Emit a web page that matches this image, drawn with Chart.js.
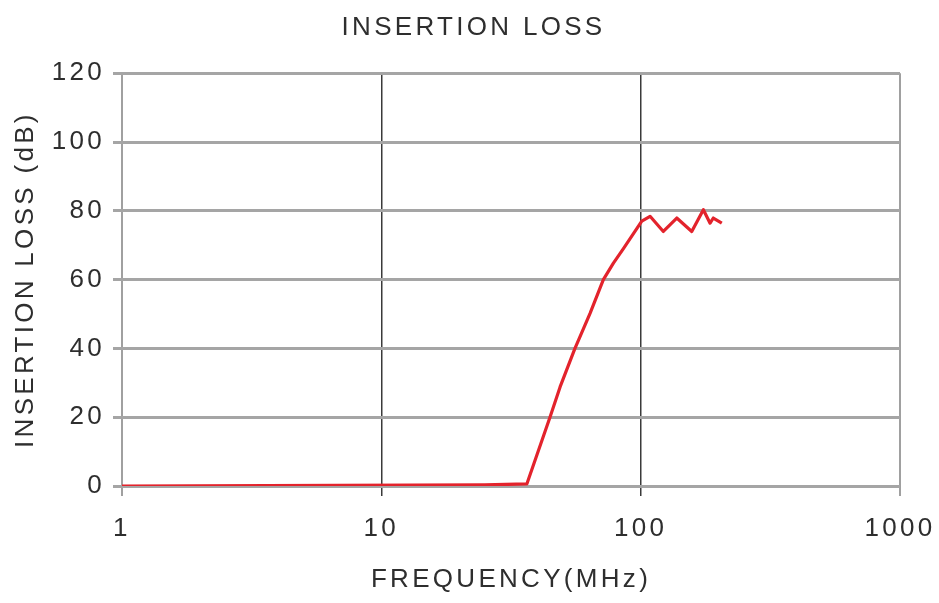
<!DOCTYPE html>
<html>
<head>
<meta charset="utf-8">
<script src="https://cdn.jsdelivr.net/npm/chart.js@4.4.1/dist/chart.umd.min.js"></script>
<style>
  html, body { margin: 0; padding: 0; background: #fff; }
  #wrap { width: 939px; height: 603px; }
</style>
</head>
<body>
<div id="wrap"><canvas id="myChart"></canvas></div>
<script>
// insertion loss vs frequency
const freqs = [1, 25, 36.4, 44.7, 48.9, 55.8, 63.8, 71.8, 78.5, 85.8, 101, 108.7, 122.3, 137.8, 157.4, 174.5, 185.2, 190.6, 205.5]
const loss  = [0, 0.3, 0.6, 20, 28.8, 40, 50.2, 60, 64.8, 69, 77, 78.4, 74, 77.9, 74, 80.3, 76.4, 77.9, 76.4]
const xTicks = [1, 10, 100, 1000]
const yTicks = [0, 20, 40, 60, 80, 100, 120]

let points = []
freqs.forEach((f, i) => points.push({x: f, y: loss[i]}))

const FONT = 'Liberation Sans'
const TEXT = '#2e2e2e'

// the scanned figure has very wide lettering
const spacing = {
  id: 'spacing',
  beforeUpdate: (chart) => { chart.ctx.letterSpacing = '3.3px' },
  beforeDraw: (chart) => { chart.ctx.letterSpacing = '3.3px' }
}

var ctx = document.getElementById('myChart').getContext('2d')

var myChart = new Chart(ctx, {
  type: 'line',
  data: {
    datasets: [{
      data: points,
      borderColor: '#e3232c',
      borderWidth: 3.2,
      borderJoinStyle: 'round',
      pointRadius: 0,
      tension: 0,
      fill: false
    }]
  },
  plugins: [spacing],
  options: {
    responsive: true,
    maintainAspectRatio: false,
    animation: false,
    layout: { padding: { left: 8, right: 0, top: 0, bottom: 0 } },
    plugins: {
      legend: { display: false },
      tooltip: { enabled: false },
      title: {
        display: true,
        text: 'INSERTION LOSS',
        color: TEXT,
        font: { family: FONT, size: 26, weight: 'normal' },
        padding: { top: 12, bottom: 30 }
      }
    },
    scales: {
      x: {
        type: 'logarithmic',
        min: 1,
        max: 1000,
        afterBuildTicks: (scale) => { scale.ticks = xTicks.map(v => ({value: v})) },
        afterFit: (scale) => {
          scale.height = 117
          scale.paddingLeft = 0
          scale.paddingRight = 30
        },
        border: { display: false },
        grid: {
          color: (c) => (c.index == 0 || c.index == 3) ? '#a0a0a0' : '#3a3a3a',
          lineWidth: (c) => (c.index == 0 || c.index == 3) ? 2 : 1.5,
          tickLength: 10
        },
        ticks: {
          color: TEXT,
          font: { family: FONT, size: 26 },
          padding: 17,
          maxRotation: 0,
          callback: (v) => String(v)
        },
        title: {
          display: true,
          text: 'FREQUENCY(MHz)',
          color: TEXT,
          font: { family: FONT, size: 26 },
          padding: { top: 0, bottom: 8 }
        }
      },
      y: {
        min: 0,
        max: 120,
        afterBuildTicks: (scale) => { scale.ticks = yTicks.map(v => ({value: v})) },
        afterFit: (scale) => { scale.width = 114 },
        border: { display: false },
        grid: {
          color: '#a5a5a5',
          lineWidth: 3,
          tickLength: 9
        },
        ticks: {
          color: TEXT,
          font: { family: FONT, size: 26 },
          padding: 8
        },
        title: {
          display: true,
          text: 'INSERTION LOSS (dB)',
          color: TEXT,
          font: { family: FONT, size: 26 },
          padding: { top: 2, bottom: 0 }
        }
      },
      // empty strip on the right so the plot stops at 1000
      yRight: {
        position: 'right',
        display: true,
        grid: { display: false },
        border: { display: false },
        ticks: { display: false },
        afterFit: (scale) => { scale.width = 39 }
      }
    }
  }
})
</script>
</body>
</html>
